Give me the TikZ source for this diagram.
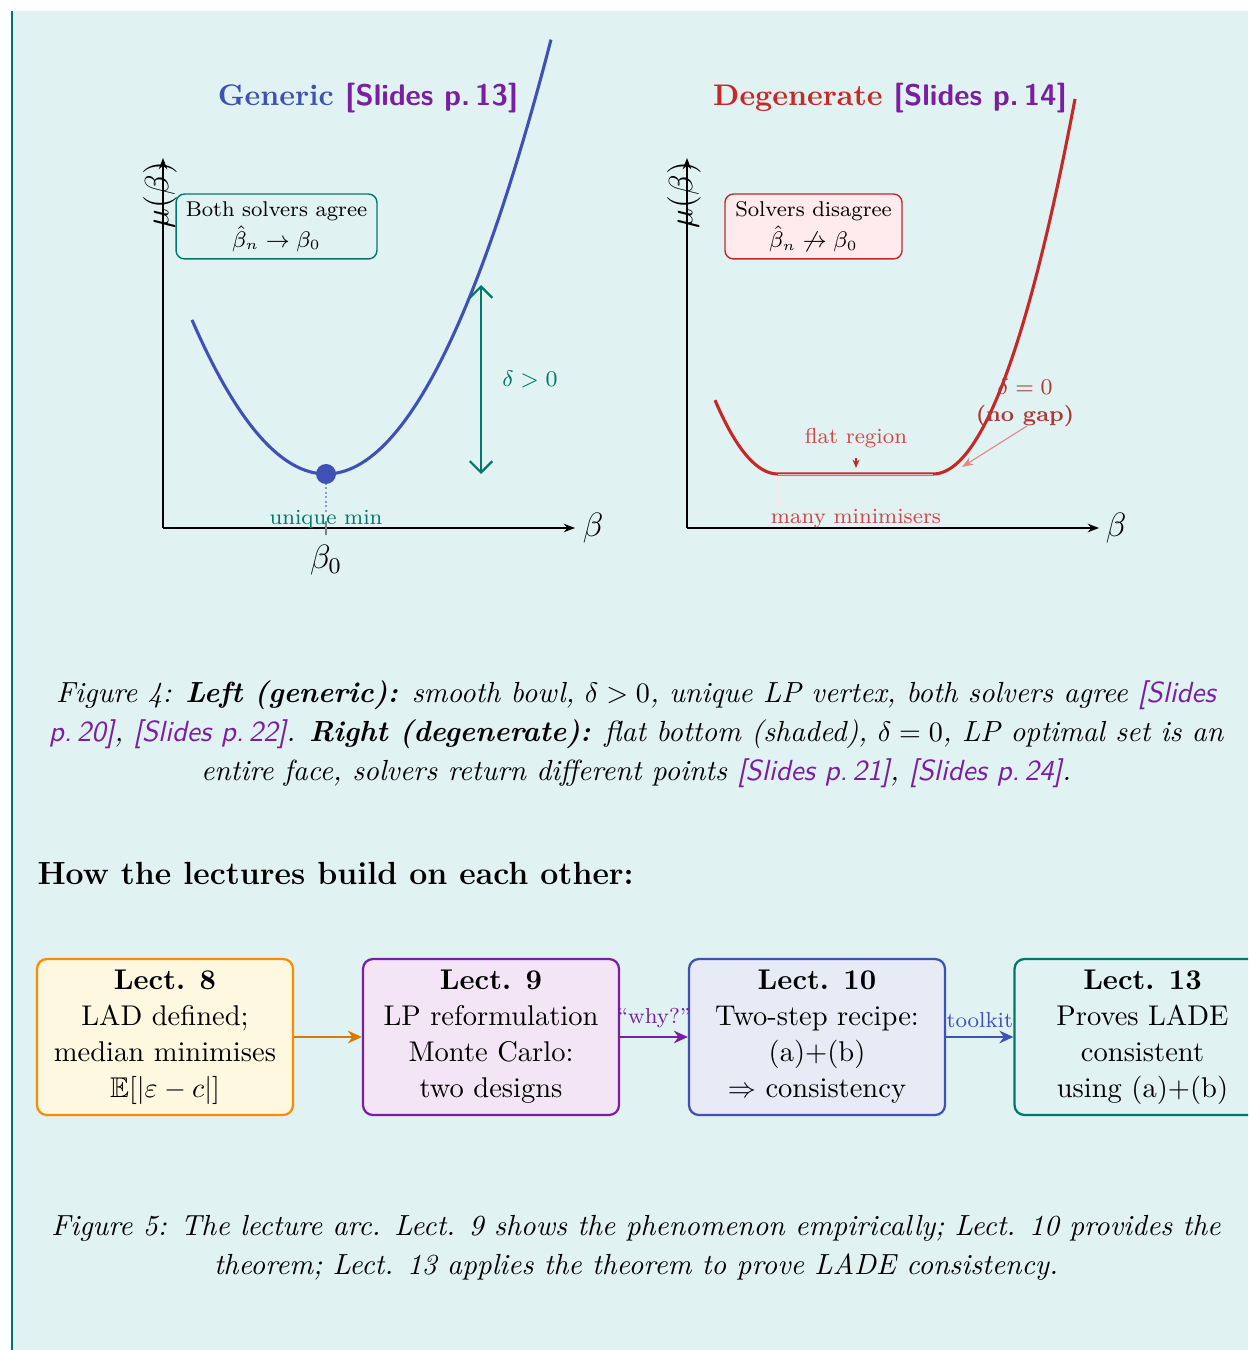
\documentclass[tikz,border=0pt]{standalone}
\usepackage{amsmath,amssymb}
\usetikzlibrary{arrows.meta}
\definecolor{bgteal}{HTML}{E0F2F1}
\definecolor{barteal}{HTML}{00796B}
\definecolor{cblue}{HTML}{3F51B5}
\definecolor{cpurple}{HTML}{7B1FA2}
\definecolor{cred}{HTML}{C62828}
\definecolor{cteal}{HTML}{00796B}
\definecolor{corange}{HTML}{FB8C00}
\definecolor{corangedark}{HTML}{D97A00}
\definecolor{fyellow}{HTML}{FFF8E1}
\definecolor{fpurple}{HTML}{F3E5F5}
\definecolor{findigo}{HTML}{E8EAF6}
\definecolor{fpink}{HTML}{FFEBEE}
\definecolor{cdarkred}{HTML}{A83A3A}
\newcommand{\slref}[1]{{\color{cpurple}\textsf{[Slides p.\,#1]}}}
\tikzset{
  axisline/.style={black, line width=0.5pt, -{Stealth[length=4pt,width=3pt]}},
  annot/.style={font=\fontsize{7.7}{9.5}\selectfont},
  infobox/.style={rounded corners=3pt, line width=0.5pt, align=center, font=\fontsize{7.6}{10}\selectfont, inner sep=2pt},
  lectbox/.style={rounded corners=3.5pt, line width=0.8pt, align=center, minimum width=91.1pt, minimum height=55.5pt, inner sep=1pt, font=\fontsize{10.15}{12.8}\selectfont},
  flowarrow/.style={line width=0.8pt, -{Stealth[length=5pt,width=4.5pt]}},
  plottitle/.style={font=\fontsize{10.6}{13}\selectfont\bfseries},
  captext/.style={align=center, font=\fontsize{10.35}{12.8}\selectfont\itshape, inner sep=0pt},
}
\begin{document}
\begin{tikzpicture}[x=0.3559pt,y=-0.3559pt]
\clip (0,0) rectangle (1248,1350);
\fill[white] (0,0) rectangle (1248,1350);
\fill[bgteal] (13,11) rectangle (1248,1350);
\fill[barteal] (11,11) rectangle (13,1350);

% ---------------- left plot ----------------
\node[plottitle] (ltitle) at (368,98) {{\color{cblue}Generic} \slref{13}};
\coordinate (lo) at (163,528);
\coordinate (lytop) at (163,158);
\coordinate (lxend) at (575,528);
\draw[axisline] (lo) -- (lytop);
\draw[axisline] (lo) -- (lxend);
\node[font=\large] (lxlab) at (593,528) {$\beta$};
\node[font=\large, rotate=90] (lylab) at (160,195) {$\mu(\beta)$};
\coordinate (lmin) at (326,474);
\coordinate (lminaxis) at (326,512);
\draw[cblue!60, densely dotted, line width=0.6pt] (lmin) -- (lminaxis);
\draw[gray, line width=0.4pt] (326,521) -- (326,535);
\draw[cblue, line width=1.1pt, domain=192:551, samples=90] plot (\x,{474-0.858*((\x-326)/10)^2});
\fill[cblue] (lmin) circle (10);
\node[annot, text=cteal] (umin) at (326,519) {unique min};
\node[font=\large] (b0) at (326,560) {$\beta_0$};
\coordinate (dtop) at (481,285);
\coordinate (dbot) at (481,474);
\draw[cteal, line width=0.8pt, {Straight Barb[length=4pt,width=8pt]}-{Straight Barb[length=4pt,width=8pt]}] (dtop) -- (dbot);
\node[annot, text=cteal] (dlab) at (530,379) {$\delta>0$};
\node[infobox, draw=cteal, fill=bgteal, minimum width=71.5pt, minimum height=23.1pt] (agree) at (276.5,226.5) {Both solvers agree\\[1pt] $\hat\beta_n\to\beta_0$};

% ---------------- right plot ----------------
\node[plottitle] (rtitle) at (890,98) {{\color{cred}Degenerate} \slref{14}};
\coordinate (ro) at (687,528);
\coordinate (rytop) at (687,158);
\coordinate (rxend) at (1099,528);
\draw[axisline] (ro) -- (rytop);
\draw[axisline] (ro) -- (rxend);
\node[font=\large] (rxlab) at (1116,528) {$\beta$};
\node[font=\large, rotate=90] (rylab) at (684,195) {$\mu(\beta)$};
\draw[cred!12, line width=0.35pt] (778,474) rectangle (933,505);
\draw[cred, line width=1.1pt] plot[domain=715:778, samples=30] (\x,{474-1.86*((778-\x)/10)^2}) -- plot[domain=933:1075, samples=60] (\x,{474-1.86*((\x-933)/10)^2});
\draw[cred!30, line width=0.3pt] (778,474) -- (933,474);
\node[annot, text=cred!85] (flat) at (856,438) {flat region};
\coordinate (flattip) at (856,468);
\draw[cred, line width=0.5pt, -{Stealth[length=3pt,width=2.5pt]}] (flat.south) -- (flattip);
\node[annot, text=cred!85] (many) at (856,519) {many minimisers};
\node[annot, text=cdarkred, align=center, inner sep=1pt] (nogap) at (1025,403) {$\delta=0$\\\textbf{(no gap)}};
\coordinate (knee) at (962,467);
\draw[cred!55, line width=0.4pt, -{Stealth[length=4pt,width=3pt]}] (1027,426) -- (knee);
\node[infobox, draw=cred, fill=fpink, minimum width=63pt, minimum height=23.1pt] (disagree) at (813.5,226.5) {Solvers disagree\\[1pt] $\hat\beta_n\not\to\beta_0$};

% ---------------- caption 4 ----------------
\node[captext] (cap4) at (636,734) {%
Figure 4: \textbf{Left (generic):} smooth bowl, $\delta>0$, unique LP vertex, both solvers agree {\color{cpurple}\textsf{[Slides}}\\[1pt]
{\color{cpurple}\textsf{p.\,20]}}, \slref{22}. \textbf{Right (degenerate):} flat bottom (shaded), $\delta=0$, LP optimal set is an\\[1pt]
entire face, solvers return different points \slref{21}, \slref{24}.};

% ---------------- heading ----------------
\node[anchor=west, font=\fontsize{11.4}{14}\selectfont\bfseries, inner sep=0pt] (head) at (37,873) {How the lectures build on each other:};

% ---------------- lecture boxes ----------------
\node[lectbox, draw=corange, fill=fyellow] (l8) at (165,1037) {\textbf{Lect. 8}\\ LAD defined;\\ median minimises\\ $\mathbb{E}[|\varepsilon-c|]$};
\node[lectbox, draw=cpurple, fill=fpurple] (l9) at (491,1037) {\textbf{Lect. 9}\\ LP reformulation\\ Monte Carlo:\\ two designs};
\node[lectbox, draw=cblue, fill=findigo] (l10) at (817,1037) {\textbf{Lect. 10}\\ Two-step recipe:\\ (a)+(b)\\ $\Rightarrow$ consistency};
\node[lectbox, draw=cteal, fill=bgteal] (l13) at (1142.5,1037) {\textbf{Lect. 13}\\ Proves LADE\\ consistent\\ using (a)+(b)};
\draw[flowarrow, corangedark] (l8.east) -- (l9.west);
\draw[flowarrow, cpurple] (l9.east) -- node[above, annot, text=cpurple, inner sep=3pt] (why) {``why?''} (l10.west);
\draw[flowarrow, cblue] (l10.east) -- node[above, annot, text=cblue, inner sep=3pt] (tool) {toolkit} (l13.west);

% ---------------- caption 5 ----------------
\node[captext] (cap5) at (636,1248) {%
Figure 5: The lecture arc. Lect. 9 shows the phenomenon empirically; Lect. 10 provides the\\[1pt]
theorem; Lect. 13 applies the theorem to prove LADE consistency.};
\end{tikzpicture}
\end{document}
